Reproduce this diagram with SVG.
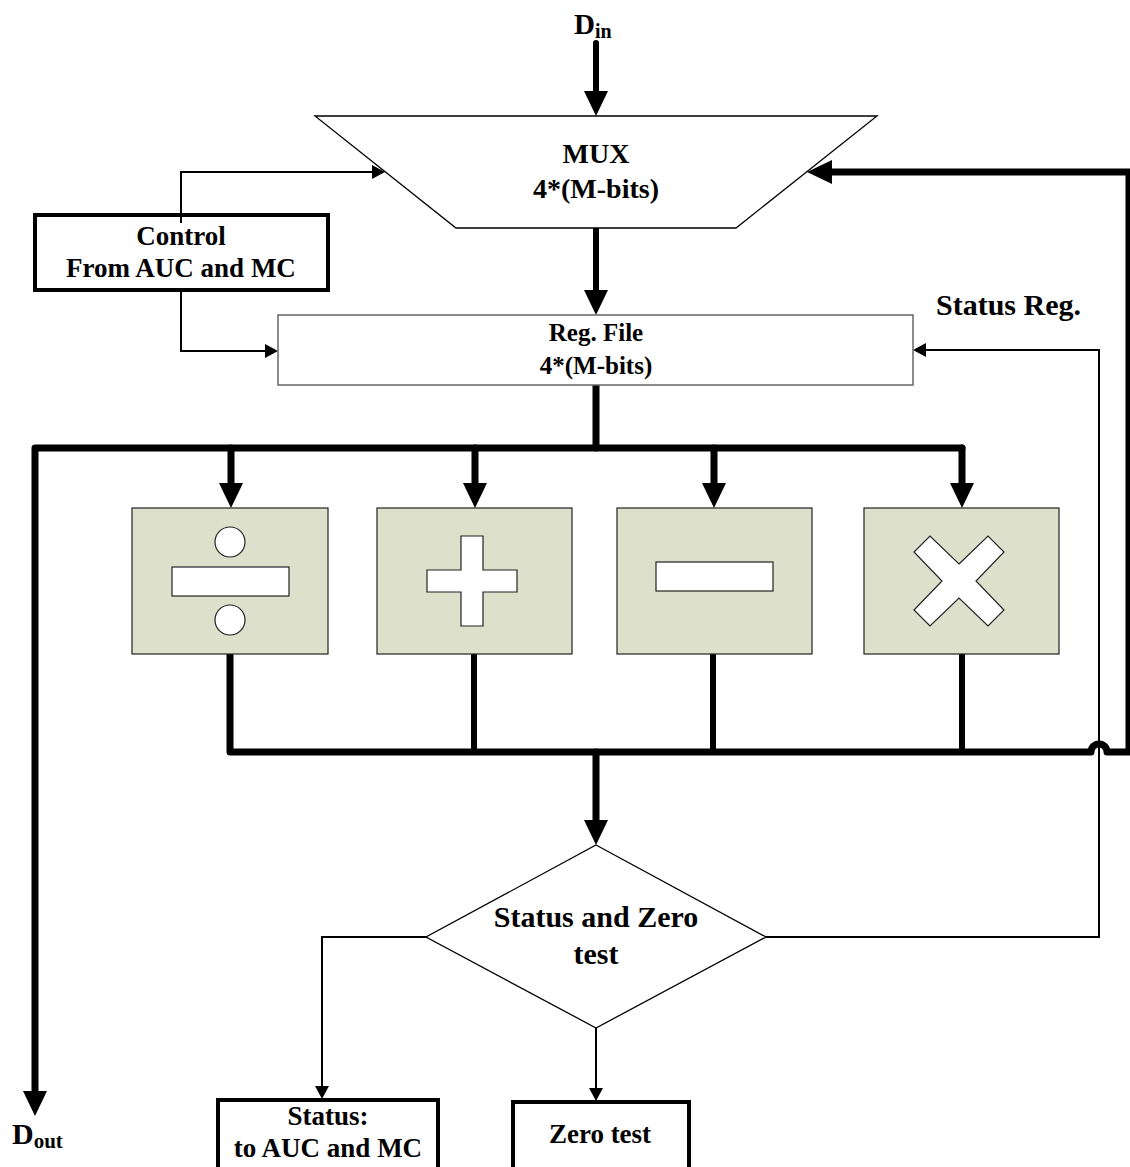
<svg xmlns="http://www.w3.org/2000/svg" width="1130" height="1167" viewBox="0 0 1130 1167">
  <style>
    .lbl { font-family: "Liberation Serif", "Times New Roman", serif; font-weight: bold; fill: #000; text-anchor: middle; }
    .lbl-start { font-family: "Liberation Serif", "Times New Roman", serif; font-weight: bold; fill: #000; text-anchor: start; }
    .thick { fill: none; stroke: #000; stroke-width: 6; stroke-linecap: round; stroke-linejoin: round; }
    .bus { fill: none; stroke: #000; stroke-width: 7; stroke-linecap: round; stroke-linejoin: round; }
    .tap { fill: none; stroke: #000; stroke-width: 6; stroke-linecap: round; stroke-linejoin: round; }
    .thin { fill: none; stroke: #000; stroke-width: 2; stroke-linejoin: miter; }
    .op { fill: #dde0cb; stroke: #222; stroke-width: 1.2; }
    .sym { fill: #fff; stroke: #222; stroke-width: 1.2; }
    .heavybox { fill: #fff; stroke: #000; stroke-width: 4; }
  </style>
  <defs>
    <marker id="headBig" markerUnits="userSpaceOnUse" viewBox="0 0 25 24" markerWidth="25" markerHeight="24" refX="0" refY="12" orient="auto">
      <path d="M0,0 L25,12 L0,24 Z" fill="#000"/>
    </marker>
    <marker id="headSmall" markerUnits="userSpaceOnUse" viewBox="0 0 13 14" markerWidth="13" markerHeight="14" refX="0" refY="7" orient="auto">
      <path d="M0,0 L13,7 L0,14 Z" fill="#000"/>
    </marker>
  </defs>

  <!-- connectors -->
  <g id="connectors">
    <!-- data input into the multiplexer -->
    <path class="thick" d="M596,43 V91" marker-end="url(#headBig)"/>
    <!-- multiplexer to register file -->
    <path class="thick" d="M596,229 V290" marker-end="url(#headBig)"/>
    <!-- register file onto the operand bus -->
    <path class="bus" d="M596,385 V448"/>
    <!-- operand bus, running left and down to the data output -->
    <path class="bus" d="M962,448 H35 V1091" marker-end="url(#headBig)"/>
    <!-- operand taps into each unit -->
    <path class="bus" d="M231,448 V483" marker-end="url(#headBig)"/>
    <path class="bus" d="M475,448 V483" marker-end="url(#headBig)"/>
    <path class="bus" d="M714,448 V483" marker-end="url(#headBig)"/>
    <path class="bus" d="M962,448 V483" marker-end="url(#headBig)"/>
    <!-- unit outputs joined on the result bus, looping back to the multiplexer -->
    <path class="tap" d="M474,654 V752"/>
    <path class="tap" d="M713,654 V752"/>
    <path class="tap" d="M962,654 V752"/>
    <path class="bus" d="M230,654 V752 H1091 A8,8 0 0,1 1107,752 H1129 V172 H832" marker-end="url(#headBig)"/>
    <!-- result bus into the status / zero test -->
    <path class="bus" d="M596,752 V820" marker-end="url(#headBig)"/>
    <!-- control lines -->
    <path class="thin" d="M181,223 V172 H372" marker-end="url(#headSmall)"/>
    <path class="thin" d="M181,290 V351 H265" marker-end="url(#headSmall)"/>
    <!-- status register feedback -->
    <path class="thin" d="M766,937 H1099 V350 H926" marker-end="url(#headSmall)"/>
    <!-- test outputs -->
    <path class="thin" d="M426,937 H322 V1086" marker-end="url(#headSmall)"/>
    <path class="thin" d="M596,1028 V1088" marker-end="url(#headSmall)"/>
  </g>

  <g id="din">
    <text class="lbl-start" x="574" y="34" font-size="29">D<tspan font-size="20" dy="4">in</tspan></text>
  </g>

  <g id="mux">
    <polygon points="315,116 877,116 736,228 456,228" fill="#fff" stroke="#000" stroke-width="1.3"/>
    <text class="lbl" x="596" y="163" font-size="28">MUX</text>
    <text class="lbl" x="596" y="198" font-size="28">4*(M-bits)</text>
  </g>

  <g id="control">
    <rect class="heavybox" x="35" y="215" width="293" height="75" fill-opacity="0"/>
    <text class="lbl" x="181" y="245" font-size="27">Control</text>
    <text class="lbl" x="181" y="277" font-size="27">From AUC and MC</text>
  </g>

  <g id="regfile">
    <rect x="278" y="315" width="635" height="70" fill="#fff" stroke="#666" stroke-width="1.5"/>
    <text class="lbl" x="596" y="341" font-size="25">Reg. File</text>
    <text class="lbl" x="596" y="374" font-size="25">4*(M-bits)</text>
  </g>

  <g id="status-reg-label">
    <text class="lbl-start" x="936" y="315" font-size="30">Status Reg.</text>
  </g>

  <g id="unit-div">
    <rect class="op" x="132" y="508" width="196" height="146"/>
    <circle class="sym" cx="230" cy="542" r="15"/>
    <rect class="sym" x="172" y="567" width="117" height="29"/>
    <circle class="sym" cx="230" cy="620" r="15"/>
  </g>

  <g id="unit-add">
    <rect class="op" x="377" y="508" width="195" height="146"/>
    <polygon class="sym" points="461,536 483,536 483,570 517,570 517,592 483,592 483,626 461,626 461,592 427,592 427,570 461,570"/>
  </g>

  <g id="unit-sub">
    <rect class="op" x="617" y="508" width="195" height="146"/>
    <rect class="sym" x="656" y="562" width="117" height="29"/>
  </g>

  <g id="unit-mul">
    <rect class="op" x="864" y="508" width="195" height="146"/>
    <polygon class="sym" transform="translate(959,581)" points="0,-17 29,-45 45,-29 17,0 45,29 29,45 0,17 -29,45 -45,29 -17,0 -45,-29 -29,-45"/>
  </g>

  <g id="status-zero-test">
    <polygon points="596,845 766,937 596,1028 426,937" fill="#fff" stroke="#000" stroke-width="1.3"/>
    <text class="lbl" x="596" y="927" font-size="30">Status and Zero</text>
    <text class="lbl" x="596" y="964" font-size="30">test</text>
  </g>

  <g id="status-out">
    <rect class="heavybox" x="218" y="1100" width="220" height="80"/>
    <text class="lbl" x="328" y="1125" font-size="27">Status:</text>
    <text class="lbl" x="328" y="1157" font-size="27">to AUC and MC</text>
  </g>

  <g id="zero-out">
    <rect class="heavybox" x="513" y="1102" width="176" height="78"/>
    <text class="lbl" x="600" y="1143" font-size="27">Zero test</text>
  </g>

  <g id="dout">
    <text class="lbl-start" x="12" y="1144" font-size="30">D<tspan font-size="21" dy="4">out</tspan></text>
  </g>
</svg>
